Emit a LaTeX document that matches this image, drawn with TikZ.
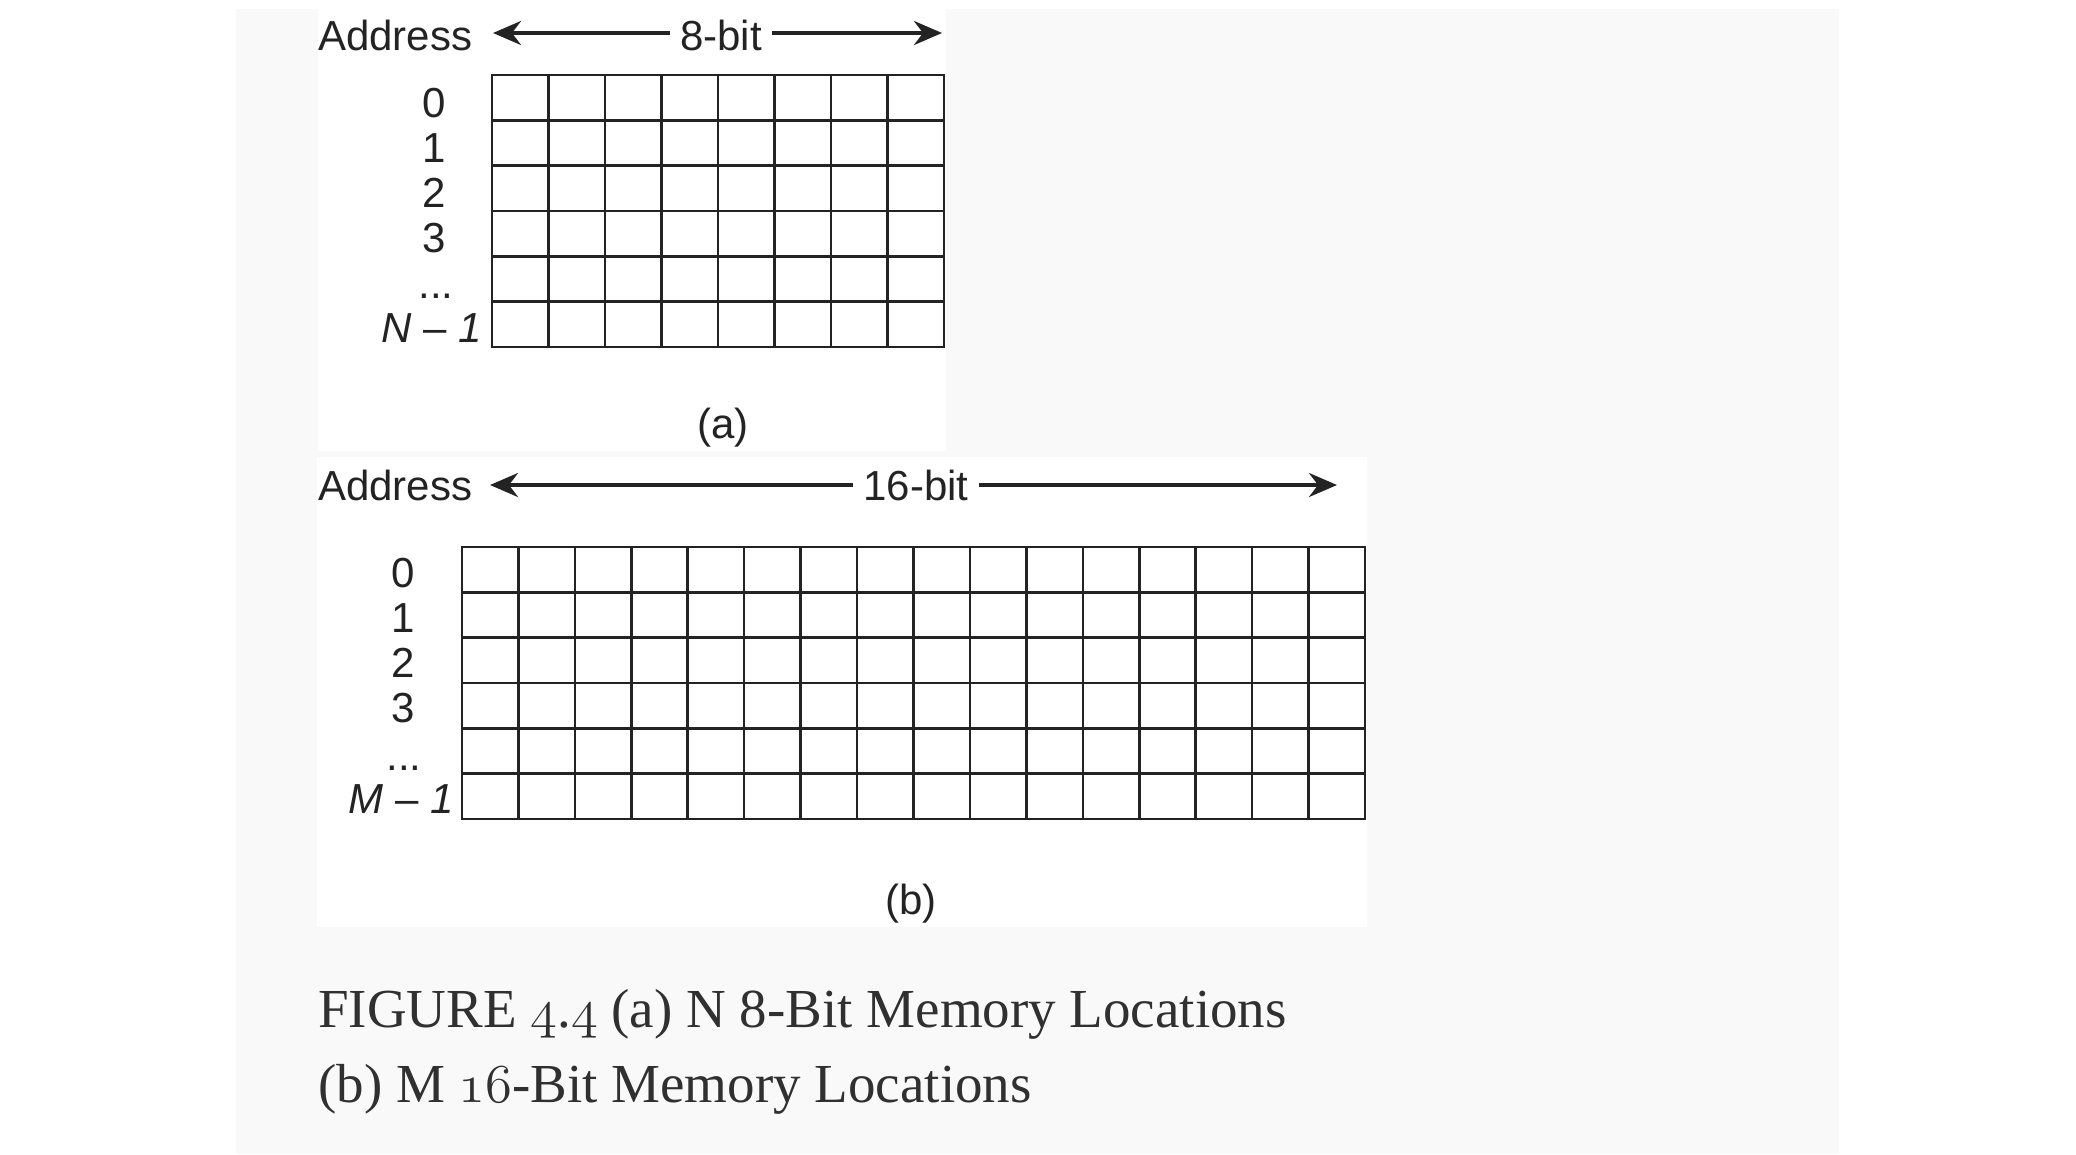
\documentclass[tikz,border=0pt]{standalone}
\usepackage{fontspec}
\usetikzlibrary{arrows.meta}
\newfontfamily\figfont{Liberation Sans}
\newfontfamily\capfont{Liberation Serif}
\newcommand\osnum[1]{\scalebox{2.2}{\fontsize{24.88}{30}\usefont{OML}{cmm}{m}{it}#1}}
\definecolor{ink}{HTML}{232323}
\definecolor{panel}{HTML}{F9F9F9}
\definecolor{captxt}{HTML}{303030}
\begin{document}
\begin{tikzpicture}[x=1pt,y=-1pt,
  lbl/.style={font=\figfont\fontsize{42}{48}\selectfont, text=ink, inner sep=0pt},
  rowlbl/.style={lbl, anchor=base},
  widthlbl/.style={lbl, anchor=base, inner xsep=10pt},
  gridline/.style={draw=ink, line width=2.6pt},
  dimarrow/.style={draw=ink, line width=3.5pt, -{Stealth[length=28pt,width=24pt,inset=9pt]}},
  caption/.style={font=\capfont\fontsize{55}{75}\selectfont, text=captxt, anchor=base west, inner sep=0pt}
]
\useasboundingbox (0,0) rectangle (2076,1154);
\fill[white] (0,0) rectangle (2076,1154);
\fill[panel] (236,9) rectangle (1839,1154);
\fill[white] (318,9) rectangle (946,451);
\fill[white] (317,457) rectangle (1367,927);

% ---------- (a) ----------
\node[rowlbl, anchor=base west] (addrA) at (318,50) {Address};
\node[widthlbl] (bitA) at (721,50) {8-bit};
\coordinate (aL) at (493,33);
\coordinate (aR) at (942,33);
\draw[dimarrow] (bitA.west |- aL) -- (aL);
\draw[dimarrow] (bitA.east |- aR) -- (aR);

\foreach \i in {0,...,8} \draw[gridline] (492+56.5*\i,75) -- (492+56.5*\i,347);
\foreach \j in {0,...,6} \draw[gridline] (492,75+45.333*\j) -- (944,75+45.333*\j);
\draw[gridline, line join=miter] (492,75) rectangle (944,347);

\node[rowlbl] (a0) at (434,117) {0};
\node[rowlbl] (a1) at (434,162) {1};
\node[rowlbl] (a2) at (434,207) {2};
\node[rowlbl] (a3) at (434,252) {3};
\node[rowlbl] (adots) at (436,298) {...};
\node[rowlbl] (aN) at (432,342) {\itshape N \upshape–\itshape\ 1};
\node[lbl] (capA) at (723,428) {(a)};

% ---------- (b) ----------
\node[rowlbl, anchor=base west] (addrB) at (318,500) {Address};
\node[widthlbl] (bitB) at (916,500) {16-bit};
\coordinate (bL) at (490,485);
\coordinate (bR) at (1337,485);
\draw[dimarrow] (bitB.west |- bL) -- (bL);
\draw[dimarrow] (bitB.east |- bR) -- (bR);

\foreach \i in {0,...,16} \draw[gridline] (462+56.4375*\i,547) -- (462+56.4375*\i,819);
\foreach \j in {0,...,6} \draw[gridline] (462,547+45.333*\j) -- (1365,547+45.333*\j);
\draw[gridline, line join=miter] (462,547) rectangle (1365,819);

\node[rowlbl] (b0) at (403,587) {0};
\node[rowlbl] (b1) at (403,632) {1};
\node[rowlbl] (b2) at (403,677) {2};
\node[rowlbl] (b3) at (403,722) {3};
\node[rowlbl] (bdots) at (404,770) {...};
\node[rowlbl] (bM) at (401,813) {\itshape M \upshape–\itshape\ 1};
\node[lbl] (capB) at (911,904) {(b)};

% ---------- caption ----------
\node[caption] (cap1) at (318,1027) {FIGURE \osnum{4}.\osnum{4} (a) N 8-Bit Memory Locations};
\node[caption] (cap2) at (318,1102) {(b) M \osnum{16}-Bit Memory Locations};
\end{tikzpicture}
\end{document}
